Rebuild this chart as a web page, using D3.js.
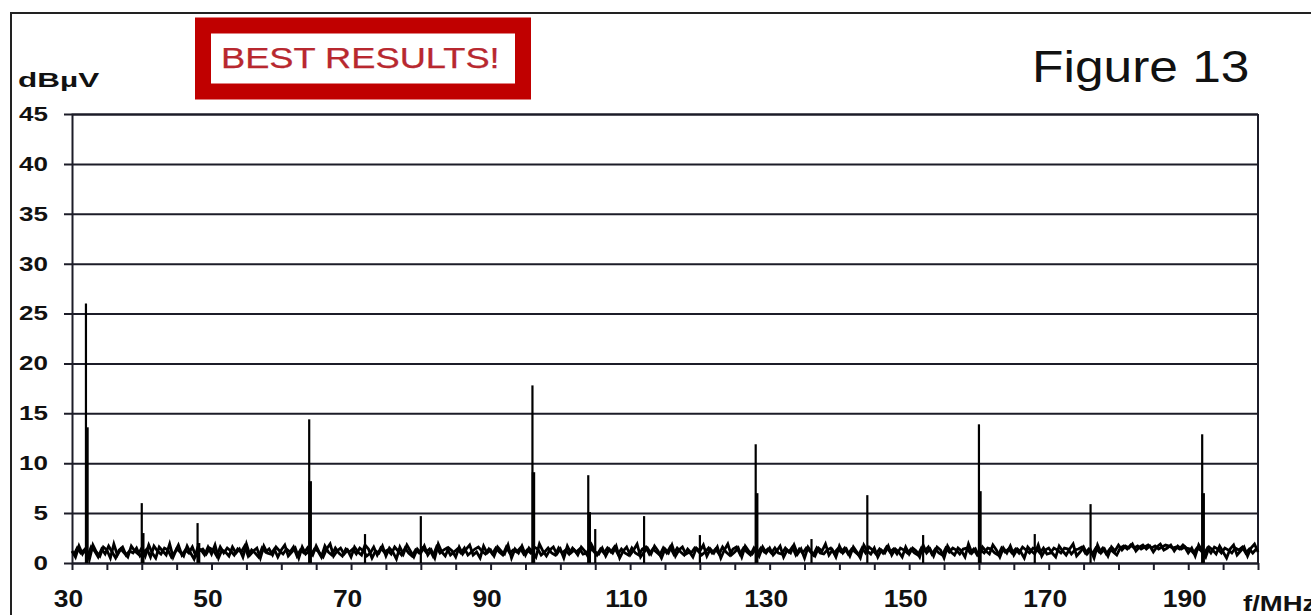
<!DOCTYPE html>
<html>
<head>
<meta charset="utf-8">
<script src="https://cdn.jsdelivr.net/npm/d3@7"></script>
<style>
  body { margin: 0; background: #fff; overflow: hidden; }
  text { font-family: "Liberation Sans", Arial, sans-serif; }
</style>
</head>
<body>
<svg id="chart" width="1311" height="615"></svg>
<script>
// y gridlines / labels (dBuV)
var yTicks = [0, 5, 10, 15, 20, 25, 30, 35, 40, 45];
// labelled x ticks (MHz) and the small tick marks
var xLabels = [30, 50, 70, 90, 110, 130, 150, 170, 190];
var xMarks = [30, 35, 40, 45, 50, 55, 60, 65, 70, 75, 80, 85, 90, 95, 100, 105, 110, 115, 120,
              125, 130, 135, 140, 145, 150, 155, 160, 165, 170, 175, 180, 185, 190, 195, 200];

// harmonic lines
var peakFreq  = [32, 40, 48, 64, 72, 80, 96, 104, 105, 112, 120, 128, 136, 144, 152, 160, 168, 176, 192];
var peakLevel = [26, 6, 4, 14.4, 2.9, 4.7, 17.8, 8.8, 3.4, 4.7, 2.8, 11.9, 2.4, 6.8, 2.8, 13.9, 2.9, 5.9, 12.9];
var shoulderLevel = [13.6, 3, 2, 8.2, 0, 0, 9.1, 5.1, 0, 0, 0, 7, 0, 0, 0, 7.2, 0, 0, 7];

// noise floor, one value every 0.5 MHz from 30 to 200 MHz
var noiseStart = 30, noiseStep = 0.5;
var noiseLevel = [
  1.2,0.6,1.7,0.9,1.5,0.4,1.8,1.1,0.7,1.6,1.3,0.5,1.9,0.8,1.4,1.0,0.6,1.7,1.2,0.9,
  1.5,0.7,1.8,1.0,0.5,1.6,1.2,0.8,1.9,0.6,1.4,1.1,0.7,1.7,1.0,0.4,1.5,1.3,0.8,1.6,
  0.9,1.8,0.5,1.3,1.1,0.7,1.6,1.0,1.4,0.6,1.9,0.8,1.2,1.5,0.5,1.7,1.0,0.9,1.4,0.6,
  1.3,1.8,0.7,1.1,1.5,0.5,1.6,0.9,1.2,0.8,1.7,1.0,0.6,1.4,1.9,0.7,1.2,1.5,0.9,1.3,
  0.6,1.6,1.1,0.8,1.8,1.4,0.5,1.2,1.0,1.7,0.7,1.5,1.1,0.4,1.6,0.9,1.8,1.2,0.6,1.4,
  1.0,1.7,0.8,1.3,0.5,1.9,1.1,0.7,1.5,1.2,0.6,1.6,0.9,1.4,1.8,0.8,1.1,0.5,1.7,1.0,
  1.3,0.7,1.6,1.2,0.9,1.8,0.5,1.4,1.0,1.7,0.8,1.5,1.1,0.6,1.9,1.2,0.7,1.3,1.6,0.9,
  1.4,0.5,1.7,1.0,1.3,0.8,1.6,1.2,0.6,1.8,1.1,0.9,1.5,0.7,1.4,1.0,1.7,0.5,1.2,1.6,
  0.8,1.3,1.9,0.6,1.1,1.5,0.9,1.7,1.2,0.5,1.4,1.0,1.8,0.7,1.3,1.6,0.9,1.1,0.6,1.5,
  1.2,1.8,0.7,1.4,1.0,1.6,0.5,1.3,1.9,0.8,1.1,1.5,0.6,1.7,1.2,0.9,1.4,0.7,1.6,1.0,
  1.5,0.8,1.2,1.7,0.6,1.3,1.0,1.8,0.9,1.4,0.5,1.6,1.1,0.7,1.5,1.2,1.9,0.8,1.3,0.6,
  1.7,1.0,1.4,0.7,1.6,1.1,0.5,1.8,1.2,0.9,1.5,0.6,1.3,1.0,1.7,0.8,1.4,1.1,0.6,1.6,
  0.9,1.5,1.2,0.6,1.8,1.0,1.4,0.7,1.6,1.3,0.5,1.7,1.1,0.8,1.5,1.2,0.6,1.9,1.0,1.4,
  0.7,1.6,1.2,0.9,1.8,1.3,0.6,1.5,1.0,1.7,0.8,1.4,1.1,0.5,1.6,1.2,0.9,1.8,0.7,1.3,
  1.5,1.0,0.6,1.7,1.2,0.8,1.4,1.9,0.7,1.1,1.6,0.9,1.3,0.5,1.8,1.0,1.4,0.7,1.6,1.2,
  1.8,1.3,1.7,1.5,1.9,1.2,1.6,1.8,1.4,1.7,1.1,1.6,1.9,1.3,1.5,1.8,1.2,1.7,1.4,1.6,
  1.0,1.5,0.7,1.8,1.2,0.6,1.6,1.3,0.9,1.7,1.1,0.5,1.4,1.8,0.8,1.2,1.6,0.7,1.5,1.9,
  1.1
];
// second sweep of the noise, sitting between the first one's samples
var noiseLevelB = [
  0.8,1.5,1.0,1.3,0.7,1.6,1.2,0.6,1.4,0.9,1.7,1.1,0.5,1.3,1.6,0.8,1.2,1.0,1.5,0.7,
  1.1,1.4,0.6,1.7,1.2,0.9,1.5,1.3,0.6,1.1,1.8,0.8,1.3,1.0,1.6,0.7,1.2,1.4,0.9,1.5,
  1.3,0.7,1.6,1.0,1.5,1.2,0.8,1.4,1.1,1.7,0.7,1.3,1.0,0.6,1.5,1.1,1.4,0.8,1.6,1.2,
  0.9,1.4,1.1,1.6,0.7,1.3,1.0,1.5,0.8,1.4,1.2,0.6,1.7,1.1,0.8,1.5,1.0,0.7,1.4,1.1,
  1.4,0.9,1.5,1.2,0.7,1.0,1.6,0.8,1.5,1.1,1.3,0.9,1.6,1.2,0.8,1.5,1.0,0.7,1.3,1.0,
  1.5,1.1,1.4,0.7,1.6,1.0,1.3,1.5,0.8,1.1,1.4,1.0,1.5,0.8,1.1,1.4,1.6,1.2,0.9,1.4,
  0.9,1.5,1.1,0.8,1.6,1.0,1.3,1.1,1.5,0.9,1.3,1.0,1.6,1.4,0.8,1.1,1.5,1.0,0.8,1.5,
  1.0,1.3,0.9,1.5,1.1,1.4,0.9,1.0,1.5,1.2,0.8,1.4,1.0,1.5,1.1,1.6,0.9,1.4,1.0,0.8,
  1.5,1.0,0.8,1.4,1.6,0.9,1.4,1.1,0.8,1.5,1.0,1.6,0.9,1.5,1.1,0.8,1.4,1.0,1.5,1.2,
  0.8,1.1,1.5,1.0,1.4,0.9,1.6,1.1,0.8,1.4,1.6,0.9,1.5,1.1,0.8,1.5,1.0,1.5,1.1,1.4,
  1.0,1.5,1.0,0.9,1.5,1.1,1.6,0.8,1.4,1.0,1.5,1.2,0.8,1.5,1.0,0.9,1.3,1.5,1.0,1.4,
  1.1,1.5,0.9,1.4,1.1,0.8,1.5,1.0,1.6,1.3,0.9,1.4,1.0,1.6,1.1,1.4,0.9,1.5,1.3,1.0,
  1.4,1.0,0.8,1.5,1.2,1.6,0.9,1.4,1.0,0.8,1.5,1.1,1.5,1.3,0.9,1.4,1.5,1.0,1.4,0.8,
  1.3,1.0,1.5,1.4,1.0,0.8,1.5,1.1,1.4,1.0,1.4,1.0,1.6,1.3,1.0,1.5,1.4,1.0,1.5,0.9,
  1.0,1.5,1.3,1.0,1.5,1.4,0.9,1.3,1.4,1.6,1.0,1.4,0.9,1.5,1.1,1.5,0.9,1.4,1.1,0.8,
  1.5,1.7,1.4,1.8,1.5,1.7,1.4,1.6,1.8,1.5,1.7,1.4,1.6,1.8,1.7,1.5,1.6,1.4,1.8,1.5,
  1.4,1.0,1.5,1.3,0.9,1.5,1.0,1.6,1.4,1.0,1.5,1.3,1.0,1.5,1.3,1.6,1.0,1.4,1.0,1.4
];

var margin = {top: 114, left: 72},
    width = 1186,
    height = 449;

var ink = "#1c1c28";

var svg = d3.select("#chart");

// widen text a bit, the scanned figure is stretched sideways
function stretch(sel, k) {
  sel.each(function() {
    var w = this.getComputedTextLength();
    d3.select(this).attr("textLength", w * k).attr("lengthAdjust", "spacingAndGlyphs");
  });
}

// page frame
svg.append("path")
  .attr("d", "M11,615V13H1311")
  .attr("fill", "none")
  .attr("stroke", "#222")
  .attr("stroke-width", 2);

var g = svg.append("g")
  .attr("transform", "translate(" + margin.left + "," + margin.top + ")");

var x = d3.scaleLinear().domain([30, 200]).range([0, width]);
var y = d3.scaleLinear().domain([0, 45]).range([height, 0]);

// y axis with full-width gridlines
var yAxis = g.append("g")
  .call(d3.axisLeft(y).tickValues(yTicks).tickSize(-width).tickPadding(24));
yAxis.select(".domain").attr("stroke", ink).attr("stroke-width", 2);
yAxis.selectAll(".tick line")
  .attr("x1", -8)
  .attr("stroke", ink)
  .attr("stroke-width", 2);
yAxis.selectAll(".tick text")
  .attr("font-size", 20)
  .attr("font-weight", "bold")
  .attr("fill", "#111")
  .call(stretch, 1.3);

// right side of the frame
g.append("line")
  .attr("x1", x(200)).attr("x2", x(200))
  .attr("y1", y(45)).attr("y2", y(0))
  .attr("stroke", ink).attr("stroke-width", 2);

// x axis: small marks below the baseline
var xAxis = g.append("g")
  .attr("transform", "translate(0," + height + ")")
  .call(d3.axisBottom(x).tickValues(xMarks).tickSize(7).tickPadding(20)
    .tickFormat(function(d) { return xLabels.indexOf(d) >= 0 ? d : ""; }));
xAxis.select(".domain").remove();
xAxis.selectAll(".tick line").attr("stroke", ink).attr("stroke-width", 2);
xAxis.selectAll(".tick text")
  .attr("font-size", 24)
  .attr("font-weight", "bold")
  .attr("fill", "#111")
  .attr("dx", -4)
  .call(stretch, 1.1);

// noise floor, both sweeps
var noiseA = d3.line()
  .x(function(d, i) { return x(noiseStart + i * noiseStep); })
  .y(function(d) { return y(d); });
var noiseB = d3.line()
  .x(function(d, i) { return x(noiseStart + noiseStep / 2 + i * noiseStep); })
  .y(function(d) { return y(d); });

g.append("path")
  .datum(noiseLevelB)
  .attr("d", noiseB)
  .attr("fill", "none")
  .attr("stroke", "#000")
  .attr("stroke-width", 2.8);

g.append("path")
  .datum(noiseLevel)
  .attr("d", noiseA)
  .attr("fill", "none")
  .attr("stroke", "#000")
  .attr("stroke-width", 2.8);

// harmonic lines
g.selectAll("line.shoulder")
  .data(peakFreq)
  .enter()
  .append("line")
  .attr("class", "shoulder")
  .attr("x1", function(d) { return x(d) + 1; })
  .attr("x2", function(d) { return x(d) + 1; })
  .attr("y1", y(0))
  .attr("y2", function(d, i) { return y(shoulderLevel[i]); })
  .attr("stroke", "#000")
  .attr("stroke-width", 3.5);

g.selectAll("line.peak")
  .data(peakFreq)
  .enter()
  .append("line")
  .attr("class", "peak")
  .attr("x1", function(d) { return x(d); })
  .attr("x2", function(d) { return x(d); })
  .attr("y1", y(0))
  .attr("y2", function(d, i) { return y(peakLevel[i]); })
  .attr("stroke", "#000")
  .attr("stroke-width", 2.2);

// texts
svg.append("text")
  .attr("x", 18).attr("y", 87)
  .attr("font-size", 21).attr("font-weight", "bold")
  .attr("fill", "#111")
  .text("dBµV")
  .call(stretch, 1.5);

svg.append("text")
  .attr("x", 1243).attr("y", 611)
  .attr("font-size", 22).attr("font-weight", "bold")
  .attr("fill", "#111")
  .text("f/MHz")
  .call(stretch, 1.25);

svg.append("text")
  .attr("x", 1032).attr("y", 82)
  .attr("font-size", 44)
  .attr("fill", "#111")
  .text("Figure 13")
  .call(stretch, 1.17);

// red banner
svg.append("rect")
  .attr("x", 203).attr("y", 25.5)
  .attr("width", 320).attr("height", 66)
  .attr("fill", "#fff")
  .attr("stroke", "#c00000")
  .attr("stroke-width", 16);

svg.append("text")
  .attr("x", 221).attr("y", 68)
  .attr("font-size", 29)
  .attr("fill", "#b8282f")
  .attr("stroke", "#b8282f")
  .attr("stroke-width", 0.25)
  .text("BEST RESULTS!")
  .call(stretch, 1.25);
</script>
</body>
</html>
